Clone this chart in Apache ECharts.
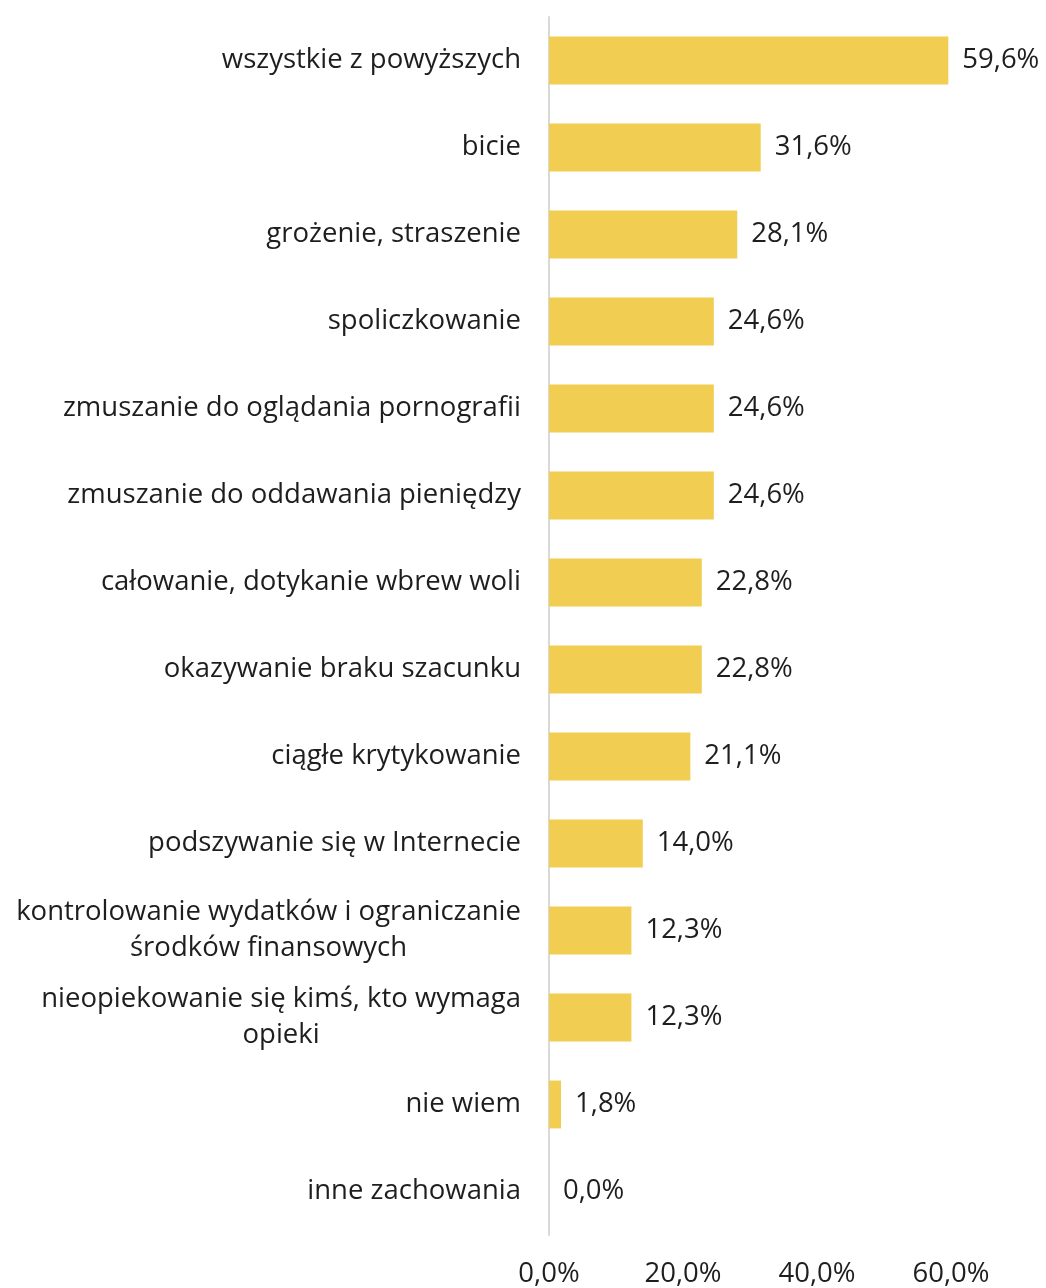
<!DOCTYPE html>
<html>
<head>
<meta charset="utf-8">
<script src="https://cdn.jsdelivr.net/npm/echarts@6/dist/echarts.min.js"></script>
<style>
    html, body { margin: 0; padding: 0; background: #fff; }
    #chart { width: 1046px; height: 1288px; }
</style>
</head>
<body>
<div id="chart"></div>
<script>
;(function () {

    'use strict';

    // categories, top to bottom as in the picture
    var categories = [
        'wszystkie z powyższych',
        'bicie',
        'grożenie, straszenie',
        'spoliczkowanie',
        'zmuszanie do oglądania pornografii',
        'zmuszanie do oddawania pieniędzy',
        'całowanie, dotykanie wbrew woli',
        'okazywanie braku szacunku',
        'ciągłe krytykowanie',
        'podszywanie się w Internecie',
        'kontrolowanie wydatków i ograniczanie\nśrodków finansowych',
        'nieopiekowanie się kimś, kto wymaga\nopieki',
        'nie wiem',
        'inne zachowania'
    ];

    var values = [59.6, 31.6, 28.1, 24.6, 24.6, 24.6, 22.8, 22.8, 21.1, 14.0, 12.3, 12.3, 1.8, 0.0];

    var axisTicks = [0, 20, 40, 60];

    var fmt = function (v) {
        return v.toFixed(1).replace('.', ',') + '%';
    };

    var font = '"Open Sans", sans-serif';
    var textColor = '#1e1e1e';
    var fontSize = 27.5;

    var chart = echarts.init(document.getElementById('chart'));

    var option = {
        backgroundColor: '#ffffff',
        animation: false,
        grid: {
            left: 549,
            right: 95,
            top: 17,
            bottom: 52,
            containLabel: false
        },
        xAxis: {
            type: 'value',
            min: axisTicks[0],
            max: axisTicks[axisTicks.length - 1],
            interval: 20,
            axisLine: { show: false },
            axisTick: { show: false },
            splitLine: { show: false },
            axisLabel: {
                margin: 25,
                color: textColor,
                fontFamily: font,
                fontSize: fontSize,
                formatter: function (v) { return fmt(v); }
            }
        },
        yAxis: {
            type: 'category',
            inverse: true,
            data: categories,
            axisLine: { show: true, lineStyle: { color: '#d9d9d9', width: 2 } },
            axisTick: { show: false },
            axisLabel: {
                margin: 28,
                color: textColor,
                fontFamily: font,
                fontSize: fontSize,
                lineHeight: 36,
                formatter: function (v) {
                    return v.split('\n').map(function (s) { return '{c|' + s + '}'; }).join('\n');
                },
                rich: {
                    c: {
                        align: 'center',
                        color: textColor,
                        fontFamily: font,
                        fontSize: fontSize,
                        lineHeight: 36
                    }
                }
            }
        },
        series: [{
            type: 'bar',
            data: values,
            barCategoryGap: '45%',
            itemStyle: { color: '#F1CD52' },
            label: {
                show: true,
                position: 'right',
                distance: 14,
                color: textColor,
                fontFamily: font,
                fontSize: fontSize,
                formatter: function (p) { return fmt(p.value); }
            }
        }]
    };

    chart.setOption(option);

}());
</script>
</body>
</html>
